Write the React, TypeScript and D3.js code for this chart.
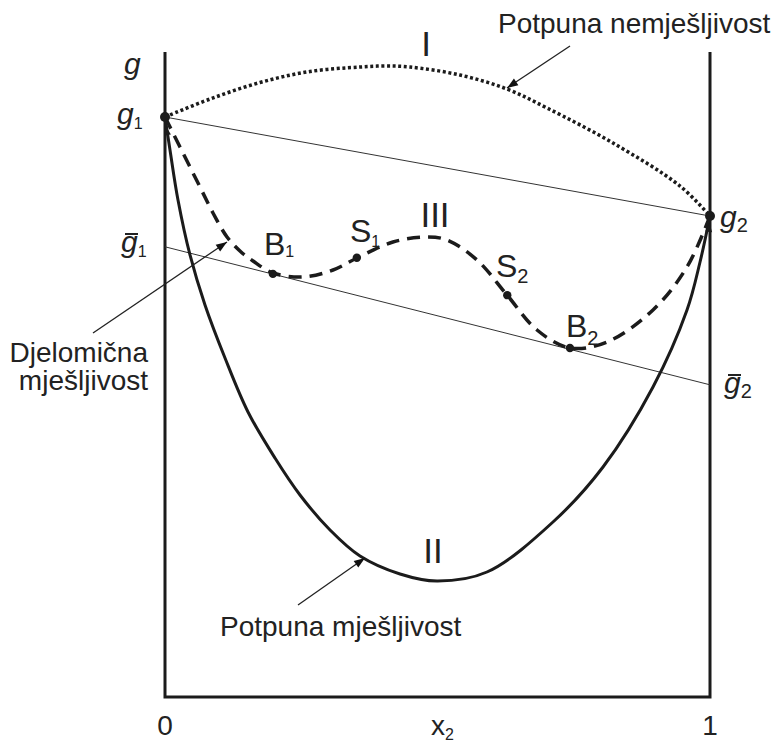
import React from "react";
import * as d3 from "d3";

// x2 (mole fraction) and g (arbitrary units, 0..100)
const curveIx = [0, 0.0826, 0.1743, 0.2661, 0.3578, 0.4037, 0.4495, 0.5413, 0.6275, 0.7009, 0.822, 0.945, 1];
const curveIg = [89.92, 92.71, 95.27, 96.98, 97.67, 97.83, 97.67, 96.43, 94.26, 91.32, 85.89, 79.22, 74.57];

const curveIIx = [0, 0.00917, 0.02385, 0.04587, 0.07339, 0.1101, 0.1523, 0.2018, 0.2477, 0.3028, 0.3578, 0.4312, 0.4991, 0.5908, 0.7119, 0.8037, 0.8954, 0.9578, 0.9817, 1];
const curveIIg = [89.92, 84.81, 77.05, 68.53, 60.78, 52.56, 44.19, 37.05, 31.32, 25.89, 21.86, 19.07, 17.98, 19.38, 27.13, 35.66, 48.06, 60.0, 67.44, 74.57];

const curveIIIx = [0, 0.02752, 0.06422, 0.08807, 0.1138, 0.1376, 0.1615, 0.1982, 0.2532, 0.3083, 0.3523, 0.4183, 0.4807, 0.5174, 0.5725, 0.6275, 0.6826, 0.7431, 0.811, 0.8954, 0.9578, 1];
const curveIIIg = [89.92, 85.27, 79.07, 75.04, 71.32, 69.15, 67.6, 65.74, 65.12, 66.2, 68.06, 70.54, 71.32, 70.85, 67.75, 62.33, 56.9, 54.11, 55.04, 60.0, 66.67, 74.57];

const tieTop = [89.92, 74.57]; // g1 -> g2
const tieBottom = [69.8, 48.4]; // g1bar -> g2bar

const pointNames = ["g1", "g2", "B1", "S1", "S2", "B2"];
const pointX = [0, 1, 0.198, 0.352, 0.628, 0.743];
const pointG = [89.92, 74.57, 65.6, 68.1, 62.3, 54.1];

const xTickLabels = ["0", "1"];

const W = 775;
const H = 742;

export default function App() {
  const x = d3.scaleLinear().domain([0, 1]).range([165, 710]);
  const y = d3.scaleLinear().domain([0, 100]).range([697, 52]);

  const line = d3
    .line<[number, number]>()
    .x((d) => x(d[0]))
    .y((d) => y(d[1]))
    .curve(d3.curveCatmullRom.alpha(0.5));

  const zip = (a: number[], b: number[]) => a.map((v, i) => [v, b[i]] as [number, number]);

  const ink = "#1b1b1b";
  const font = "'Liberation Sans', Arial, Helvetica, sans-serif";

  const arrowHead = (x1: number, y1: number, x2: number, y2: number, size = 11, half = 4) => {
    const a = Math.atan2(y2 - y1, x2 - x1);
    const bx = x2 - size * Math.cos(a);
    const by = y2 - size * Math.sin(a);
    const px = -Math.sin(a) * half;
    const py = Math.cos(a) * half;
    return `M${x2},${y2}L${bx + px},${by + py}L${bx - px},${by - py}Z`;
  };

  const pointers = [
    [570, 46, 507, 88],
    [93, 333, 227, 242],
    [298, 605, 365, 558],
  ];

  const sub = (
    main: string,
    s: string,
    px: number,
    py: number,
    size: number,
    subSize: number,
    italic = false,
    bar = false,
    subDy = 4
  ) => (
    <g>
      <text
        x={px}
        y={py}
        fontFamily={font}
        fontSize={size}
        fontStyle={italic ? "italic" : "normal"}
        fill="#222"
      >
        {main}
        <tspan fontSize={subSize} fontStyle="normal" dy={subDy}>
          {s}
        </tspan>
      </text>
      {bar && (
        <line
          x1={px + 4}
          x2={px + 17}
          y1={py - size * 0.6}
          y2={py - size * 0.6}
          stroke="#222"
          strokeWidth={2}
        />
      )}
    </g>
  );

  return (
    <svg
      width={W}
      height={H}
      viewBox={`0 0 ${W} ${H}`}
      style={{ position: "absolute", left: 0, top: 0, background: "#fff" }}
    >
      <rect width={W} height={H} fill="#fff" />

      {/* axes */}
      <path
        d={`M${x(0)},${y(100)}V${y(0)}H${x(1)}V${y(100)}`}
        fill="none"
        stroke={ink}
        strokeWidth={3}
      />

      {/* tie lines */}
      <line x1={x(0)} y1={y(tieTop[0])} x2={x(1)} y2={y(tieTop[1])} stroke="#333" strokeWidth={1} />
      <line x1={x(0)} y1={y(tieBottom[0])} x2={x(1)} y2={y(tieBottom[1])} stroke="#333" strokeWidth={1} />

      {/* curve I dotted */}
      <path
        d={line(zip(curveIx, curveIg)) || ""}
        fill="none"
        stroke={ink}
        strokeWidth={3.5}
        strokeDasharray="3,2.6"
      />
      {/* curve II solid */}
      <path d={line(zip(curveIIx, curveIIg)) || ""} fill="none" stroke={ink} strokeWidth={3} />
      {/* curve III dashed */}
      <path
        d={line(zip(curveIIIx, curveIIIg)) || ""}
        fill="none"
        stroke={ink}
        strokeWidth={3.5}
        strokeDasharray="13,8"
      />

      {/* small arrowheads of curve II at ends */}
      <path d={arrowHead(x(0.012), y(83), x(0.002), y(88.5), 9, 3.5)} fill={ink} />
      <path d={arrowHead(x(0.993), y(68), x(0.999), y(73.5), 9, 3.5)} fill={ink} />

      {/* points */}
      {pointNames.map((n, i) => (
        <circle key={n} cx={x(pointX[i])} cy={y(pointG[i])} r={i < 2 ? 5 : 4.2} fill={ink} />
      ))}

      {/* pointer arrows */}
      {pointers.map(([x1, y1, x2, y2], i) => (
        <g key={i}>
          <line x1={x1} y1={y1} x2={x2} y2={y2} stroke="#222" strokeWidth={1.3} />
          <path d={arrowHead(x1, y1, x2, y2)} fill="#111" />
        </g>
      ))}

      {/* labels */}
      <text x={124} y={74} fontFamily={font} fontSize={30} fontStyle="italic" fill="#222">
        g
      </text>
      {sub("g", "1", 117, 124, 30, 16, true, false, 5)}
      {sub("g", "1", 121, 252, 30, 16, true, true, 5)}
      {sub("g", "2", 720, 227, 30, 20, true, false, 5)}
      {sub("g", "2", 724, 393, 30, 20, true, true, 5)}

      {sub("B", "1", 264, 255, 32, 16, false, false, 2)}
      {sub("S", "1", 350, 242, 32, 16, false, false, 5)}
      {sub("S", "2", 496, 277, 32, 20, false, false, 6)}
      {sub("B", "2", 566, 337, 32, 20, false, false, 8)}

      <text x={426} y={56} fontFamily={font} fontSize={35} fill="#222" textAnchor="middle">
        I
      </text>
      <text x={435} y={227} fontFamily={font} fontSize={35} fill="#222" textAnchor="middle">
        III
      </text>
      <text x={433} y={563} fontFamily={font} fontSize={35} fill="#222" textAnchor="middle">
        II
      </text>

      <text x={498} y={33} fontFamily={font} fontSize={28} fill="#222">
        Potpuna nemješljivost
      </text>
      <text x={220} y={636} fontFamily={font} fontSize={28} fill="#222">
        Potpuna mješljivost
      </text>
      <text x={148} y={362} fontFamily={font} fontSize={28} fill="#222" textAnchor="end">
        Djelomična
      </text>
      <text x={148} y={390} fontFamily={font} fontSize={28} fill="#222" textAnchor="end">
        mješljivost
      </text>

      {/* x axis labels */}
      {xTickLabels.map((t, i) => (
        <text
          key={t}
          x={x(i)}
          y={735}
          fontFamily={font}
          fontSize={28}
          fill="#222"
          textAnchor="middle"
        >
          {t}
        </text>
      ))}
      {sub("x", "2", 431, 735, 28, 16, false, false, 5)}
    </svg>
  );
}
